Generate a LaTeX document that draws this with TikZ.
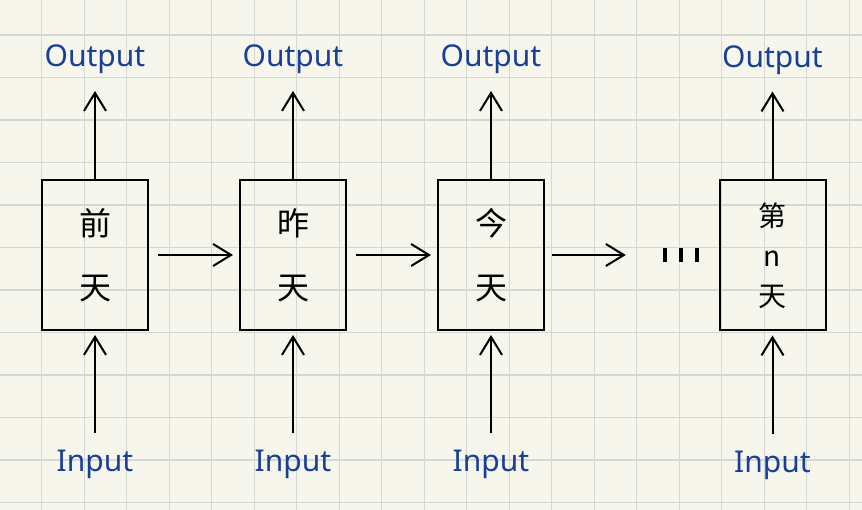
\documentclass[tikz,border=0pt]{standalone}
\usepackage{fontspec}
\setmainfont{Noto Sans}
\newfontfamily\cjk{Noto Sans CJK SC}
\usetikzlibrary{arrows.meta,positioning}
\definecolor{paper}{RGB}{247,246,236}
\definecolor{gridgray}{RGB}{214,214,212}
\definecolor{inkblue}{RGB}{24,64,150}

\begin{document}
\begin{tikzpicture}[x=1pt, y=-1pt,
    node distance=90pt,
    day/.style={draw, line width=2pt, minimum width=106pt, minimum height=150pt,
      inner sep=0pt, align=center, font=\cjk\fontsize{32}{64}\selectfont},
    io/.style={text=inkblue, inner sep=2pt, font=\fontsize{30}{32}\selectfont},
    arr/.style={-{Straight Barb[length=18pt,width=22pt]}, line width=2pt}
  ]
  % paper and grid
  \fill[paper] (0,0) rectangle (862,510);
  \useasboundingbox (0,0) rectangle (862,510);
  \foreach \i in {0,...,20}
    \draw[gridgray, line width=1.4pt] ({42.5*\i-0.8},0) -- ++(0,510);
  \foreach \j in {0,...,12}
    \draw[gridgray, line width=1.4pt] (0,{42.5*\j-7.5}) -- ++(862,0);

  % days
  \node[day] (b1) at (95,255) {前\\天};
  \node[day, right=of b1] (b2) {昨\\天};
  \node[day, right=of b2] (b3) {今\\天};
  \node[minimum width=36pt, minimum height=13pt, inner sep=0pt] (dots) at (681,255) {};
  \node[day, font=\cjk\fontsize{28}{40}\selectfont] (b4) at (772.5,255.5) {第\\n\\天};

  % inputs and outputs
  \foreach \b in {1,2,3,4} {
    \node[io, above=103pt of b\b] (o\b) {Output};
    \node[io, below=117pt of b\b] (i\b) {Input};
    \draw[arr, shorten >=15pt] (b\b) -- (o\b);
    \draw[arr, shorten <=15pt, shorten >=4pt] (i\b) -- (b\b);
  }

  % recurrence
  \draw[arr, shorten <=9pt, shorten >=6pt] (b1) -- (b2);
  \draw[arr, shorten <=9pt, shorten >=6pt] (b2) -- (b3);
  \draw[arr, shorten <=7pt, shorten >=37pt] (b3.east) -- (dots.west);
  \foreach \dx in {-16,0,16}
    \draw[line width=3.2pt] ([xshift=\dx pt]dots.north) -- ([xshift=\dx pt]dots.south);
\end{tikzpicture}
\end{document}
